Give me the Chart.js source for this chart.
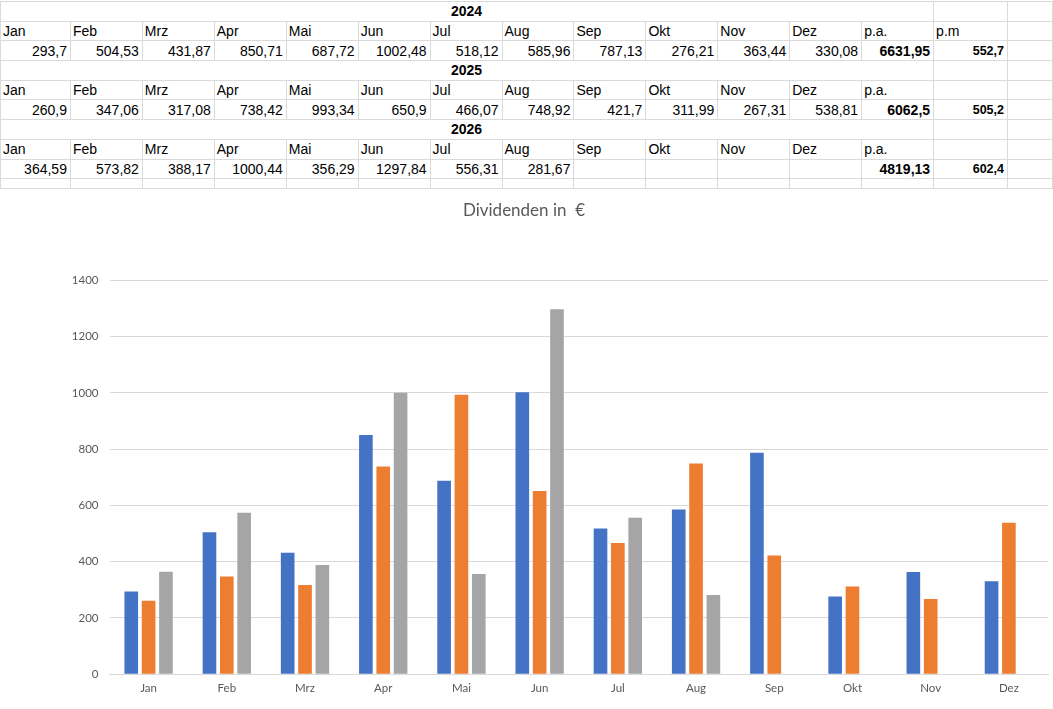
<!DOCTYPE html>
<html>
<head>
<meta charset="utf-8">
<script src="https://cdn.jsdelivr.net/npm/chart.js@4.4.1/dist/chart.umd.min.js"></script>
<style>
html,body{margin:0;padding:0;background:#fff;}
body{width:1053px;height:709px;overflow:hidden;position:relative;}
#sheet{position:absolute;left:0;top:1px;border-collapse:collapse;table-layout:fixed;font-family:"Liberation Sans",Arial,sans-serif;font-size:14px;color:#000;}
#sheet td{border:1px solid #dadada;height:18.7px;padding:0 3px 0 2px;white-space:nowrap;overflow:hidden;line-height:16px;}
#sheet td.num{text-align:right;}
#sheet td.year{text-align:center;font-weight:bold;}
#sheet td.pa{text-align:right;font-weight:bold;}
#sheet td.pm{text-align:right;font-weight:bold;font-size:12.5px;}
#sheet tr.tail td{height:9px;}
#wrap{position:absolute;left:0;top:188px;width:1053px;height:521px;}
</style>
</head>
<body>
<table id="sheet"></table>
<div id="wrap"><canvas id="divChart"></canvas></div>
<script>
let months = ["Jan","Feb","Mrz","Apr","Mai","Jun","Jul","Aug","Sep","Okt","Nov","Dez"];
let years = ["2024","2025","2026"];
let div2024 = [293.7,504.53,431.87,850.71,687.72,1002.48,518.12,585.96,787.13,276.21,363.44,330.08];
let div2025 = [260.9,347.06,317.08,738.42,993.34,650.9,466.07,748.92,421.7,311.99,267.31,538.81];
let div2026 = [364.59,573.82,388.17,1000.44,356.29,1297.84,556.31,281.67,null,null,null,null];
let perYear = [6631.95,6062.5,4819.13];
let perMonth = [552.7,505.2,602.4];
let yTicks = [0,200,400,600,800,1000,1200,1400];

let colors = ["#4472C4","#ED7D31","#A5A5A5"];
let colWidths = [70,72,72,72,72,72,72,72,72,72,72,72,72,74,45];

function fmt(v){
if(v==null) return "";
return String(v).replace(".",",");
}

function buildTable(){
let t = document.getElementById("sheet");
let html = "<colgroup>";
colWidths.forEach(w=>{ html += `<col style="width:${w}px">`; });
html += "</colgroup>";
let all = [div2024,div2025,div2026];
years.forEach((y,i)=>{
html += `<tr><td class="year" colspan="13">${y}</td><td></td><td></td></tr>`;
html += "<tr>";
months.forEach(m=>{ html += `<td>${m}</td>`; });
html += `<td>p.a.</td><td>${i==0?"p.m":""}</td><td></td></tr>`;
html += "<tr>";
all[i].forEach(v=>{ html += `<td class="num">${fmt(v)}</td>`; });
html += `<td class="pa">${fmt(perYear[i])}</td><td class="pm">${fmt(perMonth[i])}</td><td></td></tr>`;
});
html += '<tr class="tail">';
colWidths.forEach(()=>{ html += "<td></td>"; });
html += "</tr>";
t.innerHTML = html;
}

function drawChart(){
let ctx = document.getElementById("divChart");
let sets = [div2024,div2025,div2026].map((d,i)=>({
label:years[i],
data:d,
backgroundColor:colors[i],
borderWidth:0,
categoryPercentage:0.665,
barPercentage:0.787
}));
new Chart(ctx,{
type:"bar",
data:{labels:months,datasets:sets},
options:{
responsive:true,
maintainAspectRatio:false,
animation:false,
layout:{padding:{left:0,right:5,top:0,bottom:7}},
plugins:{
legend:{display:false},
tooltip:{enabled:false},
title:{
display:true,
text:"Dividenden in  €",
color:"#595959",
font:{family:"Lato",size:17,weight:"normal"},
padding:{top:12,bottom:60}
}
},
scales:{
x:{
grid:{display:false,drawTicks:false},
border:{display:true,color:"#D9D9D9"},
ticks:{color:"#595959",font:{family:"Lato",size:11.5},padding:7}
},
y:{
min:0,
max:1400,
afterBuildTicks:(s)=>{ s.ticks = yTicks.map(v=>({value:v})); },
afterFit:(s)=>{ s.width = 109.5; },
grid:{color:"#D9D9D9",drawTicks:false},
border:{display:false},
ticks:{color:"#595959",font:{family:"Lato",size:11.5},padding:11,callback:(v)=>String(v)}
}
}
}
});
}

buildTable();
drawChart();
</script>
</body>
</html>
